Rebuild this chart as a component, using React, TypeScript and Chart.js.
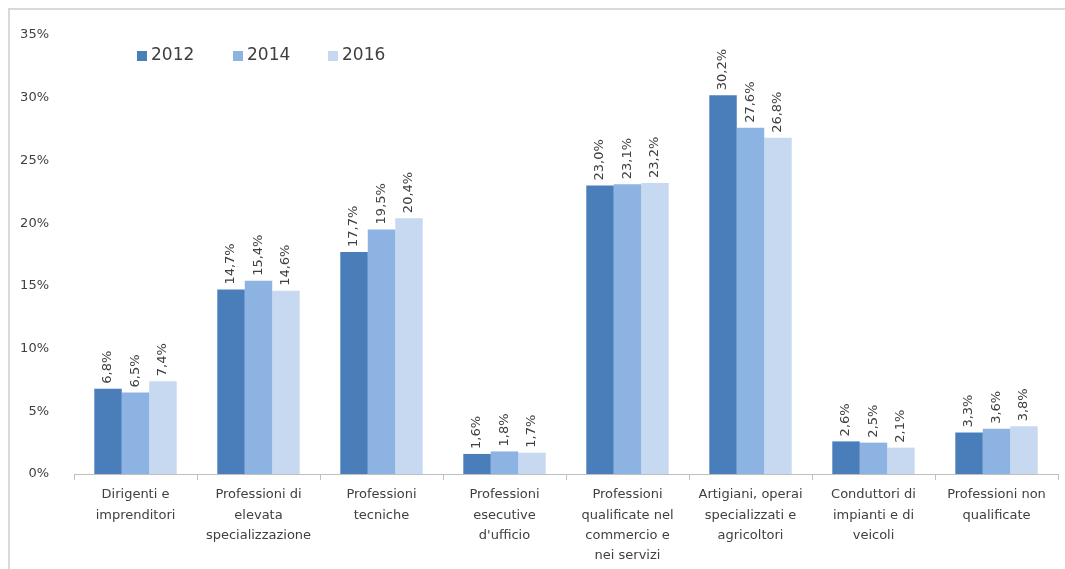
import React, { useEffect, useRef } from "react";
import { Chart, registerables } from "chart.js";

Chart.register(...registerables);

const categories: string[][] = [
  ["Dirigenti e", "imprenditori"],
  ["Professioni di", "elevata", "specializzazione"],
  ["Professioni", "tecniche"],
  ["Professioni", "esecutive", "d'ufficio"],
  ["Professioni", "qualificate nel", "commercio e", "nei servizi"],
  ["Artigiani, operai", "specializzati e", "agricoltori"],
  ["Conduttori di", "impianti e di", "veicoli"],
  ["Professioni non", "qualificate"],
];

const values2012 = [6.8, 14.7, 17.7, 1.6, 23.0, 30.2, 2.6, 3.3];
const values2014 = [6.5, 15.4, 19.5, 1.8, 23.1, 27.6, 2.5, 3.6];
const values2016 = [7.4, 14.6, 20.4, 1.7, 23.2, 26.8, 2.1, 3.8];

const seriesLabels = ["2012", "2014", "2016"];
const seriesColors = ["#4A7EBB", "#8DB3E2", "#C6D9F1"];

const FONT = "'DejaVu Sans', sans-serif";
const TEXT = "#404040";

const fmt = (v: number) => v.toFixed(1).replace(".", ",") + "%";

const framePlugin = {
  id: "frame",
  beforeDraw(chart: any) {
    const ctx = chart.ctx;
    ctx.save();
    ctx.strokeStyle = "#D9D9D9";
    ctx.lineWidth = 2;
    ctx.beginPath();
    ctx.moveTo(9, chart.height);
    ctx.lineTo(9, 9);
    ctx.lineTo(chart.width, 9);
    ctx.stroke();
    ctx.restore();
  },
};

const labelPlugin = {
  id: "barLabels",
  afterDatasetsDraw(chart: any) {
    const ctx = chart.ctx;
    ctx.save();
    ctx.font = `13px ${FONT}`;
    ctx.fillStyle = TEXT;
    ctx.textAlign = "left";
    ctx.textBaseline = "middle";
    chart.data.datasets.forEach((ds: any, di: number) => {
      const meta = chart.getDatasetMeta(di);
      meta.data.forEach((bar: any, i: number) => {
        ctx.save();
        ctx.translate(bar.x, bar.y - 5);
        ctx.rotate(-Math.PI / 2);
        ctx.fillText(fmt(ds.data[i]), 0, 0);
        ctx.restore();
      });
    });
    ctx.restore();
  },
};

const legendPlugin = {
  id: "insideLegend",
  afterDraw(chart: any) {
    const ctx = chart.ctx;
    ctx.save();
    ctx.font = `17px ${FONT}`;
    ctx.textBaseline = "middle";
    ctx.textAlign = "left";
    const xs = [137, 233, 328];
    const y = 56;
    chart.data.datasets.forEach((ds: any, i: number) => {
      ctx.fillStyle = ds.backgroundColor;
      ctx.fillRect(xs[i], y - 5, 10, 10);
      ctx.fillStyle = TEXT;
      ctx.fillText(ds.label, xs[i] + 14, y);
    });
    ctx.restore();
  },
};

export default function App() {
  const ref = useRef<HTMLCanvasElement>(null);
  useEffect(() => {
    if (!ref.current) return;
    const chart = new Chart(ref.current, {
      type: "bar",
      data: {
        labels: categories,
        datasets: [values2012, values2014, values2016].map((d, i) => ({
          label: seriesLabels[i],
          data: d,
          backgroundColor: seriesColors[i],
          borderWidth: 0,
          barPercentage: 1,
          categoryPercentage: 0.67,
        })),
      },
      options: {
        animation: false,
        responsive: false,
        maintainAspectRatio: false,
        layout: { padding: { left: 0, right: 7, top: 35, bottom: 0 } },
        plugins: {
          legend: { display: false },
          tooltip: { enabled: false },
        },
        scales: {
          x: {
            grid: {
              display: true,
              offset: true,
              drawOnChartArea: false,
              drawTicks: true,
              tickLength: 6,
              color: "#BFBFBF",
            },
            border: { display: true, color: "#BFBFBF" },
            ticks: {
              color: TEXT,
              font: { family: FONT, size: 13, lineHeight: 1.55 },
              maxRotation: 0,
              autoSkip: false,
              padding: 5,
            },
            afterFit: (s: any) => {
              s.height = 95;
            },
          },
          y: {
            min: 0,
            max: 35,
            grid: { display: false },
            border: { display: false },
            ticks: {
              stepSize: 5,
              color: TEXT,
              padding: 17,
              font: { family: FONT, size: 13 },
              callback: (v: any) => v + "%",
            },
            afterFit: (s: any) => {
              s.width = 74;
            },
          },
        },
      },
      plugins: [framePlugin, labelPlugin, legendPlugin],
    });
    return () => chart.destroy();
  }, []);
  return (
    <div
      style={{
        position: "fixed",
        left: 0,
        top: 0,
        width: 1065,
        height: 569,
        background: "#fff",
        overflow: "hidden",
      }}
    >
      <canvas ref={ref} width={1065} height={569} style={{ position: "absolute", left: 0, top: 0 }} />
    </div>
  );
}
